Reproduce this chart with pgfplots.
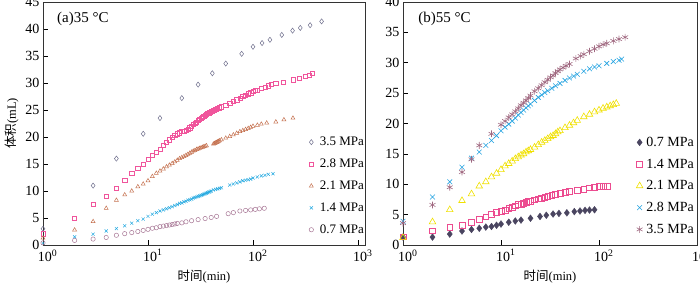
\documentclass[border=0pt]{standalone}
\usepackage{fontspec}
\setmainfont{Liberation Serif}
\newfontfamily\cjk{Noto Sans CJK SC}
\usepackage{pgfplots}
\pgfplotsset{compat=1.18}
\definecolor{cA}{HTML}{6E6E8C}
\definecolor{cB}{HTML}{F0559C}
\definecolor{cC}{HTML}{C4704E}
\definecolor{cD}{HTML}{22A8E0}
\definecolor{cE}{HTML}{A87896}
\definecolor{dA}{HTML}{4A4560}
\definecolor{dB}{HTML}{EC4C90}
\definecolor{dC}{HTML}{F0E000}
\definecolor{dD}{HTML}{22A2E0}
\definecolor{dE}{HTML}{A06880}
\begin{document}
\begin{tikzpicture}
\begin{axis}[
    scale only axis, height=243bp, width=322bp,
    xmode=log, xmin=1, xmax=1166,
    ymin=0, ymax=45, ytick={0,5,...,45},
    xminorticks=false,
    tick pos=left, tick align=inside,
    major tick length=5bp,
    every tick/.style={black, line width=0.6pt},
    axis line style={black!80, line width=0.9pt},
    /pgf/number format/assume math mode=true,
    tick label style={font=\fontsize{14bp}{16bp}\selectfont},
    xticklabel style={xshift=2bp, yshift=-1bp},
    label style={font=\fontsize{12.5bp}{15bp}\selectfont},
    xlabel style={yshift=-2bp},
    xtick={1,10,100,1000},
    xticklabels={10\rlap{\textsuperscript{0}},10\rlap{\textsuperscript{1}},10\rlap{\textsuperscript{2}},10\rlap{\textsuperscript{3}}},
    xlabel={{\cjk 时间}(min)},
    ylabel={{\cjk 体积}(mL)},
    legend cell align=left,
    legend image code/.code={\draw[mark repeat=2,mark phase=2,#1] plot coordinates {(0cm,0cm)(0.14cm,0cm)(0.28cm,0cm)}; \path (0cm,0cm) (0.36cm,0cm);},
    legend style={at={(1,0)}, anchor=south east, draw=none, fill=none,
      font=\fontsize{13bp}{15bp}\selectfont, row sep=7.8bp, inner sep=2bp, yshift=6bp, xshift=3bp},
  ]
\addplot[only marks, color=cA, mark=diamond, mark size=2.6pt, mark options={draw=cA, fill=none, line width=0.5pt}] coordinates {
(1,3.0)(3,11)(5,16)(9,20.6)(13,23.5)(21,27.2)(30,29.7)(41,31.8)(55,33.6)(78,35.4)(100,36.7)(122,37.4)(145,38.0)(188,38.9)(238,39.7)(282,40.2)(350,40.7)(450,41.4)};
\addlegendentry{3.5 MPa}
\addplot[only marks, color=cB, mark=square, mark size=2.1pt, mark options={draw=cB, fill=none, line width=0.5pt}] coordinates {
(1,2.1)(2,5)(3,7.5)(4,9)(5,10.5)(6,12)(7,13.3)(8,14.2)(9,15)(10,15.9)(11,16.6)(12,17.2)(13,17.8)(14,18.4)(15,19)(16,19.5)(17,19.9)(18,20.3)(19,20.6)(20,20.8)(21,21)(22,21.1)(23,21.2)(24,21.4)(25,21.7)(26,22)(27,22.3)(28,22.6)(29,22.8)(30,23.1)(31,23.3)(32,23.5)(33,23.7)(34,23.9)(35,24.1)(36,24.2)(37,24.4)(38,24.5)(39,24.6)(40,24.7)(41,24.8)(42,24.9)(43,25)(44,25.1)(45,25.2)(46,25.3)(48,25.4)(50,25.6)(55,25.9)(60,26.2)(65,26.6)(70,26.9)(75,27.2)(80,27.5)(85,27.8)(90,28)(95,28.2)(100,28.4)(105,28.6)(110,28.7)(120,29)(130,29.2)(140,29.5)(150,29.7)(165,29.9)(195,30.2)(240,30.6)(275,30.9)(315,31.2)(345,31.5)(365,31.8)};
\addlegendentry{2.8 MPa}
\addplot[only marks, color=cC, mark=triangle, mark size=2.3pt, mark options={draw=cC, fill=none, line width=0.5pt}] coordinates {
(1,1.3)(2,2.8)(3,4.35)(4,6.8)(5,8.3)(6,9.3)(7,10)(8,10.8)(9,11.3)(10,11.9)(11,12.7)(12,13.3)(13,13.7)(14,14.1)(15,14.5)(16,14.8)(17,15.1)(18,15.4)(19,15.7)(20,16)(21,16.2)(22,16.4)(23,16.6)(24,16.8)(25,17)(26,17.2)(27,17.4)(28,17.5)(29,17.7)(30,17.8)(31,17.9)(32,18)(33,18.1)(34,18.2)(35,18.3)(36,18.4)(42,18.7)(43,18.8)(44,18.9)(45,19)(46,19.1)(47,19.2)(48,19.3)(50,19.5)(55,19.8)(60,20.1)(65,20.4)(70,20.7)(75,21)(80,21.2)(85,21.4)(90,21.6)(95,21.8)(100,22)(110,22.2)(120,22.4)(135,22.6)(165,22.8)(197,23.2)(240,23.5)};
\addlegendentry{2.1 MPa}
\addplot[only marks, color=cD, mark=x, mark size=2.2pt, mark options={draw=cD, line width=0.5pt}] coordinates {
(1,0.3)(2,1.5)(3,2)(4,2.6)(5,3.05)(6,3.55)(7,4.05)(8,4.5)(9,4.8)(10,5.3)(11,5.7)(12,6)(13,6.3)(14,6.5)(15,6.7)(16,6.9)(17,7.1)(18,7.3)(19,7.5)(20,7.7)(21,7.8)(22,8)(23,8.1)(24,8.3)(25,8.4)(26,8.5)(27,8.7)(28,8.8)(29,8.9)(30,9)(31,9.1)(32,9.2)(33,9.3)(34,9.4)(35,9.5)(36,9.6)(37,9.7)(38,9.8)(39,9.9)(40,10)(42,10.2)(44,10.3)(46,10.4)(48,10.5)(50,10.6)(60,11.1)(65,11.3)(70,11.5)(75,11.7)(80,11.9)(85,12)(90,12.1)(95,12.2)(100,12.4)(110,12.6)(120,12.8)(130,12.9)(140,13.1)(155,13.2)};
\addlegendentry{1.4 MPa}
\addplot[only marks, color=cE, mark=o, mark size=2.2pt, mark options={draw=cE, fill=none, line width=0.5pt}] coordinates {
(1,0.4)(2,0.85)(3,1.1)(4,1.4)(5,1.8)(6,2.1)(7,2.3)(8,2.5)(9,2.7)(10,2.9)(11,3.1)(12,3.2)(13,3.4)(14,3.5)(15,3.6)(16,3.7)(17,3.8)(18,3.9)(19,4)(21,4.1)(23,4.3)(26,4.5)(30,4.7)(35,4.9)(40,5.1)(45,5.3)(58,5.8)(65,6)(75,6.3)(85,6.4)(95,6.5)(105,6.6)(115,6.7)(128,6.8)};
\addlegendentry{0.7 MPa}
\node[anchor=west, font=\fontsize{15bp}{17bp}\selectfont] at (axis description cs:0.033,0.93) {(a)35 °C};
\end{axis}
\begin{axis}[
    at={(360bp,0)},
    scale only axis, height=243bp, width=294bp,
    xmode=log, xmin=1, xmax=1000,
    ymin=0, ymax=40, ytick={0,5,...,40},
    xminorticks=false,
    tick pos=left, tick align=inside,
    major tick length=5bp,
    every tick/.style={black, line width=0.6pt},
    axis line style={black!80, line width=1pt},
    /pgf/number format/assume math mode=true,
    tick label style={font=\fontsize{14bp}{16bp}\selectfont},
    xticklabel style={xshift=2bp, yshift=-1bp},
    label style={font=\fontsize{12.5bp}{15bp}\selectfont},
    xlabel style={yshift=-2bp},
    xtick={1,10,100,1000},
    xticklabels={10\rlap{\textsuperscript{0}},10\rlap{\textsuperscript{1}},10\rlap{\textsuperscript{2}},10\rlap{\textsuperscript{3}}},
    xlabel={{\cjk 时间}(min)},
    legend cell align=left,
    legend image code/.code={\draw[mark repeat=2,mark phase=2,#1] plot coordinates {(0cm,0cm)(0.14cm,0cm)(0.28cm,0cm)}; \path (0cm,0cm) (0.3cm,0cm);},
    legend style={at={(1,0)}, anchor=south east, draw=none, fill=none,
      font=\fontsize{14bp}{16bp}\selectfont, row sep=7bp, inner sep=2bp, yshift=6bp, xshift=1bp},
  ]
\addplot[only marks, color=dA, mark=diamond*, mark size=3.4pt, mark options={draw=dA, fill=dA, line width=0.4pt}] coordinates {
(1,1.3)(2,1.3)(3,1.8)(4,2.3)(5,2.55)(6,2.75)(7,2.95)(8,3.05)(9,3.25)(10,3.45)(12,3.75)(14,3.95)(16,4.1)(20,4.4)(25,4.7)(29,4.9)(34,5.1)(39,5.2)(47,5.3)(56,5.5)(64,5.6)(72,5.7)(80,5.75)(90,5.8)};
\addlegendentry{0.7 MPa}
\addplot[only marks, color=dB, mark=square, mark size=2.9pt, mark options={draw=dB, fill=none, line width=0.6pt}] coordinates {
(1,1.35)(2,2.35)(3,2.85)(4,3.25)(5,3.75)(6,4.25)(7,4.65)(8,5.05)(9,5.35)(10,5.55)(11,5.75)(12,6.05)(13,6.25)(14,6.45)(15,6.65)(16,6.75)(17,6.85)(18,7.05)(19,7.15)(20,7.25)(22,7.45)(24,7.6)(26,7.75)(28,7.9)(30,8)(33,8.2)(36,8.4)(40,8.5)(45,8.7)(50,8.8)(60,9)(70,9.2)(80,9.4)(90,9.5)(100,9.6)(110,9.7)(122,9.7)};
\addlegendentry{1.4 MPa}
\addplot[only marks, color=dC, mark=triangle, mark size=3.8pt, mark options={draw=dC, fill=none, line width=0.6pt}] coordinates {
(1,1.2)(2,3.8)(3,5.8)(4,7.3)(5,8.4)(6,9.7)(7,10.4)(8,11.2)(9,11.8)(10,12.4)(11,13)(12,13.4)(13,13.8)(14,14.2)(15,14.5)(16,14.8)(17,15)(18,15.3)(19,15.5)(20,15.7)(22,16.1)(24,16.5)(26,16.9)(28,17.2)(30,17.5)(32,17.8)(34,18)(36,18.3)(38,18.6)(40,18.8)(45,19.3)(50,19.7)(55,20.1)(60,20.5)(70,21.1)(80,21.5)(90,21.9)(100,22.2)(110,22.5)(120,22.7)(130,22.9)(140,23.1)(150,23.3)};
\addlegendentry{2.1 MPa}
\addplot[only marks, color=dD, mark=x, mark size=3.4pt, mark options={draw=dD, line width=0.6pt}] coordinates {
(1,3.9)(2,7.9)(3,10.4)(4,12.8)(5,14.3)(6,15.3)(7,16.4)(8,17.2)(9,18)(10,18.8)(11,19.4)(12,19.9)(13,20.4)(14,20.9)(15,21.4)(16,21.8)(17,22.2)(18,22.6)(19,22.9)(20,23.2)(22,23.8)(24,24.3)(26,24.7)(28,25.1)(30,25.4)(33,25.8)(36,26.2)(40,26.6)(45,27.1)(50,27.5)(55,27.8)(60,28.1)(70,28.6)(80,29)(90,29.3)(100,29.5)(120,29.9)(140,30.2)(160,30.4)(170,30.6)};
\addlegendentry{2.8 MPa}
\addplot[only marks, color=dE, mark=asterisk, mark size=3.4pt, mark options={draw=dE, line width=0.6pt}] coordinates {
(1,3.6)(2,6.6)(3,9.5)(4,12)(5,14.1)(6,16.4)(8,18.3)(10,19.8)(11,20.4)(12,21)(13,21.5)(14,22)(15,22.5)(16,23)(17,23.4)(18,23.8)(19,24.2)(20,24.6)(22,25.3)(24,25.8)(26,26.3)(28,26.8)(30,27.2)(32,27.6)(34,27.9)(36,28.3)(38,28.6)(40,28.9)(43,29.2)(46,29.5)(50,29.8)(58,30.7)(65,31.1)(70,31.4)(80,31.9)(90,32.3)(100,32.7)(110,33)(120,33.2)(140,33.6)(160,33.9)(185,34.2)};
\addlegendentry{3.5 MPa}
\node[anchor=west, font=\fontsize{15bp}{17bp}\selectfont] at (axis description cs:0.04,0.93) {(b)55 °C};
\end{axis}
\pgfresetboundingbox
\path[use as bounding box] (-43bp,-41bp) rectangle (657bp,245bp);
\end{tikzpicture}
\end{document}
